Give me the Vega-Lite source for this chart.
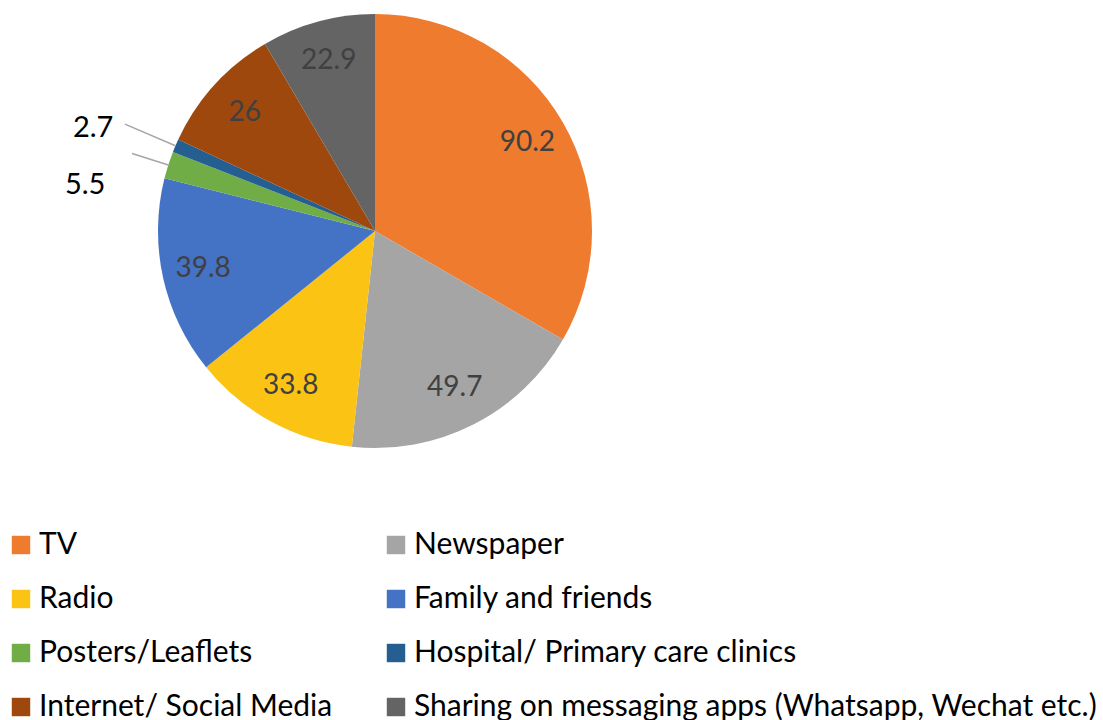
{
  "$schema": "https://vega.github.io/schema/vega-lite/v6.json",
  "width": 750,
  "height": 462,
  "padding": {"left": 0, "top": 0, "right": 353, "bottom": 258},
  "autosize": {"type": "none"},
  "background": "white",
  "config": {"view": {"stroke": null}, "font": "Lato"},
  "data": {
    "values": [
      {"i": 1, "source": "TV", "value": 90.2},
      {"i": 2, "source": "Newspaper", "value": 49.7},
      {"i": 3, "source": "Radio", "value": 33.8},
      {"i": 4, "source": "Family and friends", "value": 39.8},
      {"i": 5, "source": "Posters/Leaflets", "value": 5.5},
      {"i": 6, "source": "Hospital/ Primary care clinics", "value": 2.7},
      {"i": 7, "source": "Internet/ Social Media", "value": 26},
      {"i": 8, "source": "Sharing on messaging apps (Whatsapp, Wechat etc.)", "value": 22.9}
    ]
  },
  "encoding": {
    "theta": {"field": "value", "type": "quantitative", "stack": true},
    "order": {"field": "i", "type": "quantitative"},
    "detail": {"field": "source", "type": "nominal"}
  },
  "layer": [
    {
      "mark": {"type": "arc", "radius": 217},
      "encoding": {
        "color": {
          "field": "source",
          "type": "nominal",
          "scale": {
            "domain": ["TV", "Radio", "Posters/Leaflets", "Internet/ Social Media", "Newspaper", "Family and friends", "Hospital/ Primary care clinics", "Sharing on messaging apps (Whatsapp, Wechat etc.)"],
            "range": ["#EF7B2F", "#FBC314", "#70AD47", "#9E480E", "#A5A5A5", "#4472C4", "#255E91", "#646464"]
          },
          "legend": {
            "orient": "none",
            "legendX": 6,
            "legendY": 530,
            "columns": 2,
            "title": null,
            "symbolType": "square",
            "symbolSize": 340,
            "symbolStrokeWidth": 0,
            "labelFontSize": 30,
            "labelFont": "Lato",
            "labelColor": "#000000",
            "labelLimit": 800,
            "rowPadding": 24,
            "columnPadding": 48,
            "labelOffset": 3
          }
        }
      }
    },
    {
      "mark": {"type": "arc", "radius": 272, "radius2": 217, "padAngle": 3, "filled": false, "strokeWidth": 1.5},
      "encoding": {
        "color": {"value": "#A6A6A6"},
        "strokeOpacity": {"condition": {"test": "datum.source === 'Hospital/ Primary care clinics'", "value": 1}, "value": 0}
      }
    },
    {
      "mark": {"type": "arc", "radius": 255, "radius2": 217, "padAngle": 3, "filled": false, "strokeWidth": 1.5},
      "encoding": {
        "color": {"value": "#A6A6A6"},
        "strokeOpacity": {"condition": {"test": "datum.source === 'Posters/Leaflets'", "value": 1}, "value": 0}
      }
    },
    {
      "mark": {"type": "text", "radius": 176, "fontSize": 28, "font": "Lato", "fill": "#404040"},
      "encoding": {
        "text": {"condition": {"test": "datum.value > 10", "field": "value", "type": "nominal"}, "value": ""}
      }
    },
    {
      "mark": {"type": "text", "radius": 300, "dx": -6, "dy": 15, "fontSize": 29, "font": "Lato", "fill": "#000000"},
      "encoding": {
        "text": {"condition": {"test": "datum.source === 'Hospital/ Primary care clinics'", "field": "value", "type": "nominal"}, "value": ""}
      }
    },
    {
      "mark": {"type": "text", "radius": 300, "dx": -4, "dy": 45, "fontSize": 29, "font": "Lato", "fill": "#000000"},
      "encoding": {
        "text": {"condition": {"test": "datum.source === 'Posters/Leaflets'", "field": "value", "type": "nominal"}, "value": ""}
      }
    }
  ]
}
